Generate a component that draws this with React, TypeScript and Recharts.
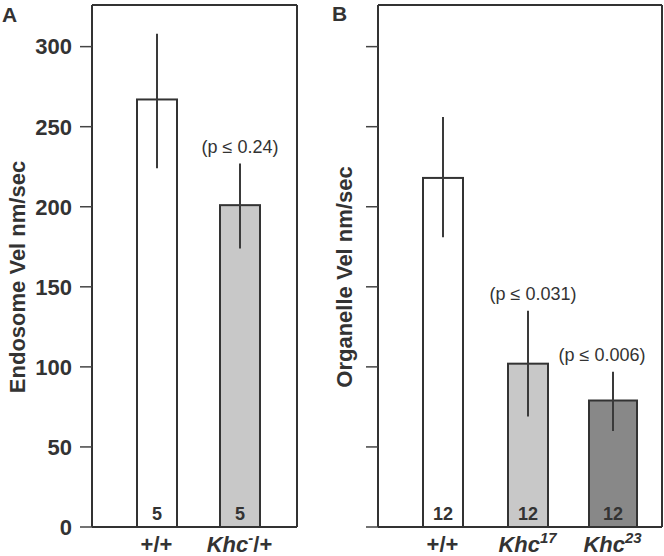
import React from 'react';
import { BarChart, Bar, XAxis, YAxis, ErrorBar, Label } from 'recharts';

// Panel A: endosome velocity
const endoGenotypes = ['+/+', 'Khc^-/+'];
const endoMeans = [267, 201];
const endoLow = [224, 174];
const endoHigh = [308, 227];
const endoN = [5, 5];
const endoP = ['', '(p ≤ 0.24)'];

// Panel B: organelle velocity
const orgGenotypes = ['+/+', 'Khc^17', 'Khc^23'];
const orgMeans = [218, 102, 79];
const orgLow = [181, 69, 60];
const orgHigh = [256, 135, 97];
const orgN = [12, 12, 12];
const orgP = ['', '(p ≤ 0.031)', '(p ≤ 0.006)'];

const yTicks = [0, 50, 100, 150, 200, 250, 300];
const Y_MAX = 326;

const FONT = '"Liberation Sans", Arial, Helvetica, sans-serif';
const INK = '#333333';
const FILLS_A = ['#ffffff', '#c8c8c8'];
const FILLS_B = ['#ffffff', '#c8c8c8', '#888888'];

const buildRows = (names: string[], means: number[], lo: number[], hi: number[], n: number[], p: string[]) =>
  names.map((name, i) => ({
    name,
    mean: means[i],
    err: [means[i] - lo[i], hi[i] - means[i]],
    n: n[i],
    p: p[i],
  }));

const endoRows = buildRows(endoGenotypes, endoMeans, endoLow, endoHigh, endoN, endoP);
const orgRows = buildRows(orgGenotypes, orgMeans, orgLow, orgHigh, orgN, orgP);

const GenotypeTick = ({ x, y, payload }: any) => {
  const label: string = payload.value;
  const m = label.match(/^(Khc)\^([^/]*)(.*)$/);
  const common = { fontFamily: FONT, fontWeight: 700, fontSize: 22, fill: INK };
  if (!m) {
    return <text x={x} y={y + 25} textAnchor="middle" {...common}>{label}</text>;
  }
  return (
    <text x={x} y={y + 25} textAnchor="middle" {...common}>
      <tspan fontStyle="italic">{m[1]}</tspan>
      <tspan fontStyle="italic" fontSize={15} dy={-9}>{m[2]}</tspan>
      {m[3] ? <tspan dy={9}>{m[3]}</tspan> : null}
    </text>
  );
};

const makeBarShape = (fills: string[], widths: number[], rows: any[], nudge: number[]) => (props: any) => {
  const { x, y, width, height, index } = props;
  const w = widths[index];
  const cx = x + width / 2;
  const bottom = y + height;
  const row = rows[index];
  const perUnit = height / row.mean;
  const hiPx = bottom - (row.mean + row.err[1]) * perUnit;
  return (
    <g>
      <rect x={cx - w / 2} y={y} width={w} height={height} fill={fills[index]} stroke={INK} strokeWidth={2} />
      <text x={cx} y={bottom - 7} textAnchor="middle" fontFamily={FONT} fontWeight={700} fontSize={18} fill={INK}>
        {row.n}
      </text>
      {row.p ? (
        <text x={cx + nudge[index]} y={hiPx - 11} textAnchor="middle" fontFamily={FONT} fontSize={18} fill={INK}>
          {row.p}
        </text>
      ) : null}
    </g>
  );
};

const yLabel = (text: string, dx: number) => (props: any) => {
  const vb = props.viewBox;
  const cx = vb.x + dx;
  const cy = vb.y + vb.height / 2 + 11;
  return (
    <text x={cx} y={cy} transform={`rotate(-90 ${cx} ${cy})`} textAnchor="middle" dominantBaseline="central"
      fontFamily={FONT} fontWeight={700} fontSize={22} fill={INK}>
      {text}
    </text>
  );
};

const frameLine = { stroke: INK, strokeWidth: 2 };

const Panel = ({ rows, fills, widths, nudge, yTitle, labelDx, showTickLabels, width, yAxisWidth, marginRight, padding }: any) => (
  <BarChart width={width} height={556} data={rows} margin={{ top: 4, right: marginRight, bottom: 0, left: 0 }} barSize={40}>
    <XAxis dataKey="name" tick={<GenotypeTick />} tickLine={false} tickSize={0} tickMargin={0} height={29}
      axisLine={frameLine} padding={padding} interval={0} />
    <XAxis xAxisId="top" orientation="top" dataKey="name" tick={false} tickLine={false} height={1}
      axisLine={frameLine} padding={padding} />
    <YAxis domain={[0, Y_MAX]} ticks={yTicks} width={yAxisWidth} tickSize={12} tickMargin={8}
      axisLine={frameLine} tickLine={{ stroke: '#444', strokeWidth: 1.5 }}
      tick={{ fontFamily: FONT, fontWeight: 700, fontSize: 22, fill: INK }}
      tickFormatter={(v: number) => (showTickLabels ? String(v) : '')} allowDataOverflow>
      <Label content={yLabel(yTitle, labelDx)} />
    </YAxis>
    <YAxis yAxisId="right" orientation="right" domain={[0, Y_MAX]} width={1} tick={false} tickLine={false}
      axisLine={frameLine} />
    <Bar dataKey="mean" isAnimationActive={false} shape={makeBarShape(fills, widths, rows, nudge)}>
      <ErrorBar dataKey="err" width={0} stroke="#3a3a3a" strokeWidth={2} isAnimationActive={false} />
    </Bar>
  </BarChart>
);

const App = () => (
  <div style={{ position: 'absolute', left: 0, top: 0, width: 664, height: 556, background: '#fff' }}>
    <div style={{ position: 'absolute', left: 0, top: 0 }}>
      <Panel rows={endoRows} fills={FILLS_A} widths={[40, 40]} nudge={[0, 0]} yTitle="Endosome Vel nm/sec" labelDx={17}
        showTickLabels width={330} yAxisWidth={92} marginRight={32} padding={{ left: 23, right: 16 }} />
    </div>
    <div style={{ position: 'absolute', left: 330, top: 0 }}>
      <Panel rows={orgRows} fills={FILLS_B} widths={[40, 40, 48]} nudge={[0, 5, -11]} yTitle="Organelle Vel nm/sec" labelDx={14}
        showTickLabels={false} width={334} yAxisWidth={48} marginRight={1} padding={{ left: 22, right: 7 }} />
    </div>
    <svg width={664} height={556} style={{ position: 'absolute', left: 0, top: 0, pointerEvents: 'none' }}>
      <text x={2} y={22} fontFamily={FONT} fontWeight={700} fontSize={21} fill={INK}>A</text>
      <text x={332} y={21} fontFamily={FONT} fontWeight={700} fontSize={21} fill={INK}>B</text>
    </svg>
  </div>
);

export default App;
